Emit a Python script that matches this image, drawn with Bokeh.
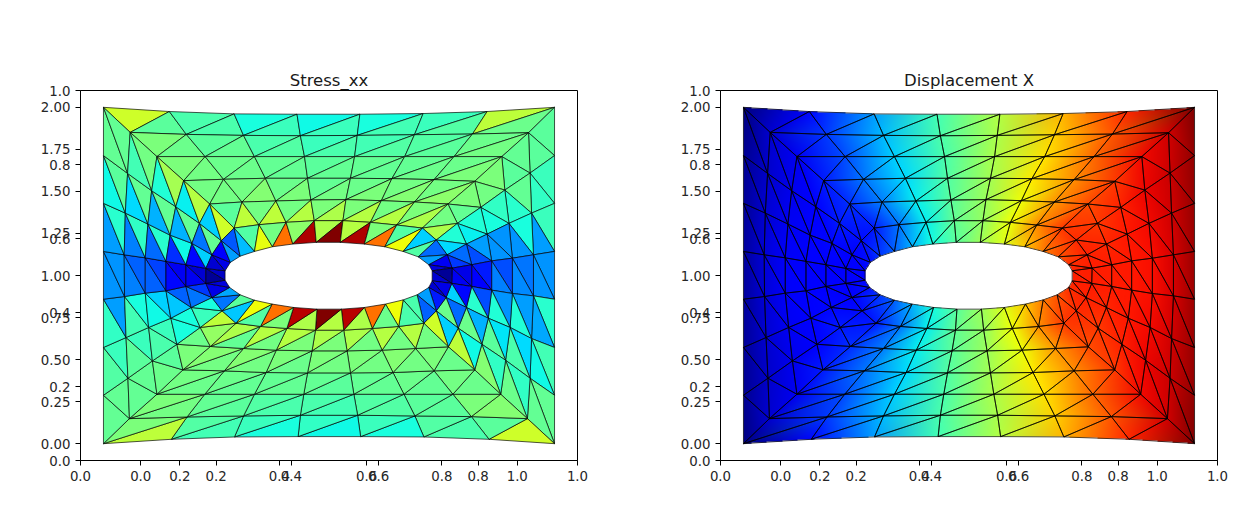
import numpy as np
from bokeh.embed import file_html
from bokeh.resources import INLINE
from bokeh.layouts import row
from bokeh.plotting import figure
from bokeh.models import (AllLabels, BoxAnnotation, FixedTicker, Label,
                          PolyAnnotation, Range1d)

# ---- mesh: 7 rings, 28 nodes each, clockwise from the top-left corner
RING0_X = [-.099,.076,.248,.415,.582,.750,.920,1.099, 1.099,1.099,1.099,1.099,1.099,1.099, 1.099,
           .925,.752,.584,.418,.249,.081, -.099, -.099,-.099,-.099,-.099,-.099,-.099]
RING0_Y = [2.000,1.975,1.961,1.959,1.959,1.963,1.975,2.000, 1.713,1.429,1.143,.859,.572,.288, 0.0,
           .026,.040,.042,.042,.040,.026, 0.0, .288,.572,.859,1.143,1.429,1.713]
RING1_X = [-.028,.121,.273,.424,.575,.727,.881,1.030, 1.034,1.038,1.043,1.043,1.038,1.034, 1.027,
           .878,.728,.576,.424,.273,.123, -.030, -.034,-.039,-.043,-.044,-.041,-.035]
RING1_Y = [1.851,1.839,1.833,1.831,1.833,1.837,1.841,1.849, 1.609,1.371,1.123,.879,.625,.389, .149,
           .161,.165,.169,.169,.165,.159, .149, .389,.631,.875,1.123,1.371,1.607]
RING2_X = [.043,.171,.302,.435,.568,.701,.832,.959, .967,.978,.987,.987,.981,.969, .956,
           .829,.699,.566,.433,.302,.170, .043, .031,.021,.012,.012,.019,.029]
RING2_Y = [1.707,1.707,1.707,1.707,1.707,1.707,1.707,1.707, 1.508,1.310,1.103,.893,.691,.496, .294,
           .294,.294,.294,.294,.294,.294, .294, .492,.691,.895,1.105,1.306,1.504]
RING3_X = [.114,.220,.331,.443,.557,.667,.779,.887, .903,.920,.932,.932,.923,.906, .887,
           .779,.670,.557,.443,.333,.222, .112, .096,.080,.067,.067,.078,.093]
RING3_Y = [1.564,1.572,1.578,1.578,1.578,1.576,1.570,1.560, 1.405,1.246,1.087,.913,.746,.591, .439,
           .433,.423,.421,.421,.423,.433, .439, .591,.746,.909,1.084,1.240,1.409]
RING4_X = [.183,.269,.359,.452,.545,.639,.727,.816, .841,.865,.879,.879,.865,.843, .817,
           .730,.641,.548,.455,.360,.273, .185, .158,.134,.120,.120,.136,.156]
RING4_Y = [1.425,1.437,1.443,1.449,1.451,1.445,1.437,1.425, 1.310,1.187,1.064,.935,.810,.687, .576,
           .566,.556,.552,.552,.556,.566, .578, .691,.810,.935,1.064,1.191,1.310]
RING5_X = [.248,.314,.386,.461,.537,.610,.680,.748, .785,.814,.827,.826,.811,.785, .752,
           .685,.615,.539,.464,.388,.318, .253, .216,.189,.173,.173,.189,.214]
RING5_Y = [1.282,1.302,1.316,1.326,1.326,1.316,1.300,1.282, 1.211,1.123,1.044,.953,.869,.790, .716,
           .697,.685,.675,.675,.685,.697, .716, .790,.869,.953,1.042,1.123,1.207]
RING6_X = [.302,.350,.404,.466,.530,.594,.648,.697, .737,.765,.774,.774,.765,.734, .697,
           .650,.594,.533,.468,.406,.349, .302, .264,.236,.224,.224,.238,.264]
RING6_Y = [1.143,1.171,1.187,1.197,1.197,1.187,1.171,1.143, 1.111,1.064,1.028,.968,.929,.885, .855,
           .830,.810,.800,.800,.810,.830, .853, .885,.929,.972,1.028,1.078,1.115]

# ---- Stress_xx per element (normalised 0..1), per layer; A: edge on outer ring, B: edge on inner ring
S0_A = [.60,.44,.38,.37,.38,.42,.58, .46,.42,.42,.27,.40,.43,.47, .60,.44,.38,.37,.38,.43,.58, .47,.45,.41,.27,.28,.37,.47]
S0_B = [.46,.44,.42,.42,.43,.45,.48, .46,.41,.28,.27,.29,.37,.47, .46,.45,.42,.41,.42,.45,.50, .47,.42,.28,.27,.40,.46,.47]
S1_A = [.50,.46,.44,.42,.43,.45,.48, .47,.47,.38,.24,.28,.34,.41, .51,.46,.45,.43,.44,.46,.49, .47,.46,.43,.25,.25,.34,.43]
S1_B = [.48,.47,.45,.44,.45,.46,.49, .46,.40,.27,.26,.39,.44,.48, .50,.46,.45,.44,.45,.47,.50, .47,.42,.38,.22,.41,.47,.49]
S2_A = [.50,.48,.47,.46,.47,.47,.48, .50,.41,.27,.20,.27,.35,.41, .48,.47,.47,.46,.47,.47,.48, .48,.44,.37,.22,.23,.30,.39]
S2_B = [.49,.48,.47,.47,.47,.48,.50, .49,.38,.27,.25,.39,.46,.51, .49,.48,.47,.47,.47,.48,.49, .46,.42,.33,.19,.40,.47,.55]
S3_A = [.49,.49,.48,.47,.48,.49,.49, .50,.39,.28,.15,.20,.30,.37, .48,.49,.49,.49,.48,.49,.49, .50,.38,.32,.13,.17,.30,.36]
S3_B = [.49,.51,.50,.49,.50,.51,.52, .47,.36,.20,.12,.40,.48,.58, .50,.51,.50,.50,.50,.51,.51, .48,.38,.22,.10,.37,.47,.57]
S4_A = [.46,.49,.49,.50,.50,.49,.50, .49,.39,.23,.09,.13,.23,.33, .49,.49,.49,.50,.50,.49,.47, .53,.42,.24,.10,.13,.24,.33]
S4_B = [.58,.58,.57,.56,.57,.57,.56, .56,.34,.18,.10,.33,.48,.60, .57,.57,.56,.56,.57,.57,.56, .58,.38,.18,.07,.33,.47,.60]
S5_A = [.45,.49,.52,.56,.57,.50,.45, .33,.23,.10,.02,.09,.15,.22, .44,.48,.56,.57,.56,.50,.45, .32,.24,.09,.02,.07,.11,.21]
S5_B = [.63,.79,.96,1.0,.96,.79,.64, .45,.28,.08,.07,.07,.28,.44, .64,.79,.95,1.0,.95,.79,.64, .46,.29,.08,.06,.09,.28,.31]

# ---- Displacement X per node (normalised 0..1)
U0 = [.0,.13,.28,.43,.57,.72,.87,1.0, .985,.98,.975,.975,.98,.985, 1.0, .87,.72,.57,.43,.28,.13, .0, .015,.02,.025,.025,.02,.015]
U1 = [.07,.18,.31,.44,.56,.69,.82,.93, .935,.93,.925,.925,.93,.935, .93, .82,.69,.56,.44,.31,.18, .07, .065,.07,.075,.075,.07,.065]
U2 = [.10,.20,.33,.44,.56,.67,.80,.90, .905,.90,.895,.895,.90,.905, .90, .80,.67,.56,.44,.33,.20, .10, .095,.10,.105,.105,.10,.095]
U3 = [.15,.24,.34,.45,.55,.66,.76,.85, .875,.885,.885,.885,.885,.875, .85, .76,.66,.55,.45,.34,.24, .15, .125,.115,.115,.115,.115,.125]
U4 = [.17,.25,.36,.46,.54,.64,.75,.83, .85,.87,.88,.88,.87,.85, .83, .75,.64,.54,.46,.36,.25, .17, .15,.13,.12,.12,.13,.15]
U5 = [.15,.24,.36,.47,.53,.64,.76,.85, .865,.875,.88,.88,.875,.865, .85, .76,.64,.53,.47,.36,.24, .15, .135,.125,.12,.12,.125,.135]
U6 = [.22,.30,.38,.46,.54,.62,.70,.78, .82,.86,.875,.875,.86,.82, .78, .70,.62,.54,.46,.38,.30, .22, .18,.14,.125,.125,.14,.18]

TITLES = ["Stress_xx", "Displacement X"]
WINDOWS = ["Figure 1", "Figure 2"]
OUTER_TICKS = [0.0, 0.2, 0.4, 0.6, 0.8, 1.0]
OUTER_LABELS = ["0.0", "0.2", "0.4", "0.6", "0.8", "1.0"]
INNER_X_TICKS = [0.0, 0.2, 0.4, 0.6, 0.8, 1.0]
INNER_X_LABELS = ["0.0", "0.2", "0.4", "0.6", "0.8", "1.0"]
INNER_Y_TICKS = [0.0, 0.25, 0.5, 0.75, 1.0, 1.25, 1.5, 1.75, 2.0]
INNER_Y_LABELS = ["0.00", "0.25", "0.50", "0.75", "1.00", "1.25", "1.50", "1.75", "2.00"]
X0, X1, Y0, Y1 = -0.16, 1.16, -0.1, 2.1

RX = np.array([RING0_X, RING1_X, RING2_X, RING3_X, RING4_X, RING5_X, RING6_X])
RY = np.array([RING0_Y, RING1_Y, RING2_Y, RING3_Y, RING4_Y, RING5_Y, RING6_Y])
UV = np.array([U0, U1, U2, U3, U4, U5, U6])
SA = [S0_A, S1_A, S2_A, S3_A, S4_A, S5_A]
SB = [S0_B, S1_B, S2_B, S3_B, S4_B, S5_B]


def jet(v):
    v = np.asarray(v, dtype=float)
    r = np.interp(v, [0, .35, .66, .89, 1], [0, 0, 1, 1, .5])
    g = np.interp(v, [0, .125, .375, .64, .91, 1], [0, 0, 1, 1, 0, 0])
    b = np.interp(v, [0, .11, .34, .65, 1], [.5, 1, 1, 0, 0])
    return np.stack([r, g, b], axis=-1)


def to_hex(c):
    return "#%02x%02x%02x" % tuple(int(round(255 * float(t))) for t in c)


tris, stress = [], []
for i in range(6):
    for j in range(28):
        k = (j + 1) % 28
        tris.append(((i, j), (i, k), (i + 1, j)))
        stress.append(SA[i][j])
        tris.append(((i, k), (i + 1, k), (i + 1, j)))
        stress.append(SB[i][j])
tri_x = [[float(RX[a]) for a in t] for t in tris]
tri_y = [[float(RY[a]) for a in t] for t in tris]


def gouraud(nx=451, ny=336):
    xmin, xmax, ymin, ymax = RX.min(), RX.max(), RY.min(), RY.max()
    dx, dy = (xmax - xmin) / nx, (ymax - ymin) / ny
    xs = xmin + (np.arange(nx) + .5) * dx
    ys = ymin + (np.arange(ny) + .5) * dy
    img = np.zeros((ny, nx, 4), dtype=np.uint8)
    gx, gy = np.meshgrid(xs, ys)
    rgb = jet(UV)
    for t in tris:
        (ax, bx, cx) = [RX[a] for a in t]
        (ay, by, cy) = [RY[a] for a in t]
        c0, c1, c2 = [rgb[a] for a in t]
        d = (by - cy) * (ax - cx) + (cx - bx) * (ay - cy)
        i0 = max(int((min(ax, bx, cx) - xmin) / dx) - 1, 0)
        i1 = min(int((max(ax, bx, cx) - xmin) / dx) + 2, nx)
        j0 = max(int((min(ay, by, cy) - ymin) / dy) - 1, 0)
        j1 = min(int((max(ay, by, cy) - ymin) / dy) + 2, ny)
        X, Y = gx[j0:j1, i0:i1], gy[j0:j1, i0:i1]
        w0 = ((by - cy) * (X - cx) + (cx - bx) * (Y - cy)) / d
        w1 = ((cy - ay) * (X - cx) + (ax - cx) * (Y - cy)) / d
        w2 = 1 - w0 - w1
        m = (w0 >= -1e-9) & (w1 >= -1e-9) & (w2 >= -1e-9)
        sub = img[j0:j1, i0:i1]
        for ch in range(3):
            sub[..., ch][m] = np.clip(255 * (w0 * c0[ch] + w1 * c1[ch] + w2 * c2[ch]), 0, 255)[m]
        sub[..., 3][m] = 255
    view = img.view(np.uint32).reshape(ny, nx)
    return view, float(xmin), float(ymin), float(xmax - xmin), float(ymax - ymin)


def make_axes(title, width, left, top, right, bottom):
    p = figure(width=width, height=517, x_range=Range1d(X0, X1), y_range=Range1d(Y0, Y1),
               output_backend="svg", toolbar_location=None, title=title,
               min_border_left=left, min_border_top=top, min_border_right=right, min_border_bottom=bottom,
               background_fill_color="white", border_fill_color="white",
               outline_line_color="black", outline_line_width=1)
    p.grid.visible = False
    p.title.text_font = "DejaVu Sans"
    p.title.text_font_size = "16.5px"
    p.title.text_font_style = "normal"
    p.title.text_color = "#1a1a1a"
    p.title.align = "center"
    p.title.standoff = 2
    # the reference overlays a 0..1 axes on the mesh axes: both tick sets on one axis line
    xo = [X0 + (X1 - X0) * t for t in OUTER_TICKS]
    yo = [Y0 + (Y1 - Y0) * t for t in OUTER_TICKS]
    p.xaxis.ticker = FixedTicker(ticks=xo + INNER_X_TICKS)
    p.yaxis.ticker = FixedTicker(ticks=yo + INNER_Y_TICKS)
    p.xaxis.major_label_overrides = {**dict(zip(xo, OUTER_LABELS)), **dict(zip(INNER_X_TICKS, INNER_X_LABELS))}
    p.yaxis.major_label_overrides = {**dict(zip(yo, OUTER_LABELS)), **dict(zip(INNER_Y_TICKS, INNER_Y_LABELS))}
    for ax in (p.xaxis, p.yaxis):
        ax.major_label_policy = AllLabels()
        ax.major_tick_out = 5
        ax.major_tick_in = 0
        ax.minor_tick_line_color = None
        ax.major_tick_line_color = "black"
        ax.axis_line_color = "black"
        ax.major_label_text_font = "DejaVu Sans"
        ax.major_label_text_font_size = "13.33px"
        ax.major_label_text_color = "#262626"
        ax.major_label_standoff = 5
    p.yaxis.major_label_orientation = "horizontal"
    return p


def chrome(p, ox, ft, name, name_color, close, dim):
    """Window title bar and borders, placed through the figure's own ranges."""
    fx = lambda px: X0 + (px - ox - 80) / 497 * (X1 - X0)
    fy = lambda py: Y1 - (py - ft) / 371 * (Y1 - Y0)

    def box(l, t, r, b, **kw):
        kw.setdefault("line_color", None)
        p.add_layout(BoxAnnotation(left=fx(l), right=fx(r), top=fy(t), bottom=fy(b), **kw))

    def poly(pts, **kw):
        kw.setdefault("line_color", None)
        p.add_layout(PolyAnnotation(xs=[fx(a) for a, _ in pts], ys=[fy(b) for _, b in pts], **kw))

    ang = np.linspace(0, 2 * np.pi, 24, endpoint=False)
    cx, cy = ox + 16, 17
    poly(list(zip(cx + 7.5 * np.cos(ang), cy + 7.5 * np.sin(ang))), fill_color="white", fill_alpha=1,
         line_color="#bdbdbd", line_width=1)
    poly([(ox + 11, 13), (ox + 12, 12), (ox + 18, 19), (ox + 17, 20)], fill_color="#e08a2c", fill_alpha=1)
    poly([(ox + 13, 15), (ox + 15, 12), (ox + 17, 13), (ox + 14, 17)], fill_color="#6aa84f", fill_alpha=1)
    poly([(ox + 15, 18), (ox + 21, 20), (ox + 20, 22), (ox + 15, 20)], fill_color="#5b7fb5", fill_alpha=1)
    p.add_layout(Label(x=fx(ox + 27), y=fy(18), text=name, text_font="Open Sans", text_font_size="11.5px",
                       text_color=name_color, text_baseline="middle"))
    minus_x, sq_x = (519, 565) if close else (1159, 1205)
    c1, c2 = dim
    box(minus_x, 17, minus_x + 10, 18, fill_color=c1, fill_alpha=1)
    box(sq_x + .5, 12.5, sq_x + 10.5, 22.5, fill_alpha=0, line_color=c2, line_width=1)
    if close:
        poly([(612, 13), (613, 12), (623, 22), (622, 23)], fill_color="#c8c8c8", fill_alpha=1)
        poly([(622, 12), (623, 13), (613, 23), (612, 22)], fill_color="#c8c8c8", fill_alpha=1)
    # status band along the bottom of the window
    box(ox + (5 if close else 2), 513, ox + (640 if close else 601), 517, fill_color="#f0f0f0", fill_alpha=1)
    if close:
        for k in range(10):
            box(630 + k, 5, 631 + k, 517, fill_color="#8a8a8a", fill_alpha=0.02 + 0.05 * k * k / 9)
    else:
        box(640, 5, 641, 517, fill_color="#b0b0b0", fill_alpha=1)


# left window
p1 = make_axes(TITLES[0], 640, 80, 89, 63, 57)
p1.patches(tri_x, tri_y, fill_color=[to_hex(c) for c in jet(stress)],
           line_color="black", line_width=0.8, line_alpha=0.85)
chrome(p1, 0, 89, WINDOWS[0], "#a6a6a6", True, ("#d0d0d0", "#c8c8c8"))

# right window
p2 = make_axes(TITLES[1], 601, 80, 90, 24, 56)
view, ix, iy, iw, ih = gouraud()
p2.image_rgba(image=[view], x=ix, y=iy, dw=iw, dh=ih)
p2.patches(tri_x, tri_y, fill_color=None, line_color="black", line_width=0.8, line_alpha=0.85)
chrome(p2, 640, 90, WINDOWS[1], "#333333", False, ("#a8a8a8", "#555555"))

page = row(p1, p2)
open("out.html", "w").write(file_html(page, INLINE))
